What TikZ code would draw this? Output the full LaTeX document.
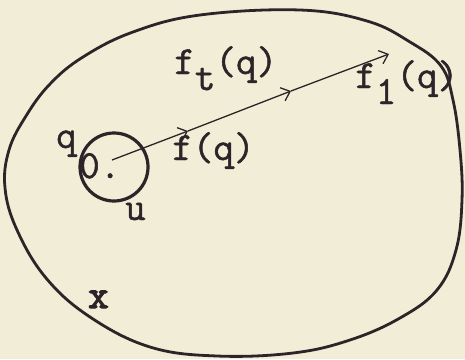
\documentclass[tikz,border=0pt]{standalone}
\usepackage{fontspec}
\newfontfamily\typer[FakeBold=1.2]{Latin Modern Mono}
\newfontfamily\typerheavy[FakeBold=3]{Latin Modern Mono}
\usetikzlibrary{arrows.meta}
\definecolor{paper}{RGB}{242,237,214}
\definecolor{ink}{RGB}{45,35,40}
\tikzset{
  lbl/.style={inner sep=0pt, anchor=base west, text=ink, font=\typer\fontsize{40}{40}\selectfont},
  curve/.style={draw=ink, line width=2.8pt, line join=round},
  vec/.style={draw=ink, line width=1.3pt, -{Straight Barb[length=8pt,width=14pt,line width=1.3pt]}},
}
\begin{document}
\begin{tikzpicture}[x=1pt,y=-1pt]
\fill[paper] (0,0) rectangle (465,359);
\useasboundingbox (0,0) rectangle (465,359);
% big region X
\draw[curve] plot[smooth cycle, tension=0.65] coordinates {
 (300,10) (367,21) (410,42) (441,66) (453,100) (460,150) (462,200) (456,250)
 (437,290) (400,318) (350,340) (293,353) (217,356) (150,347) (90,317) (46,278)
 (17,230) (5,188) (9,150) (26,116) (50,84) (83,57) (133,32) (200,15)};
% neighbourhood U
\node[draw=ink, line width=3.2pt, circle, minimum size=68pt, inner sep=0pt] (U) at (114,167) {};
% path of the point
\coordinate (o) at (112,160);
\coordinate (a1) at (188,131);
\coordinate (a2) at (291,91);
\coordinate (e) at (389,54);
\draw[vec] (o) -- (a1);
\draw[vec] (a1) -- (a2);
\draw[vec] (a2) -- (e);
% labels
\node[lbl] (ft) at (174,74) {f\raisebox{-16pt}{t}(q)};
\node[lbl] (f0) at (172,160) {f(q)};
\node[lbl] (f1) at (355,88) {f\raisebox{-16pt}{1}(q)};
\node[lbl] (q) at (56,148) {q};
\node[lbl] (o0) at (79,178) {0.};
\node[lbl] (u) at (125,220) {u};
\node[lbl, font=\typerheavy\fontsize{40}{40}\selectfont] (X) at (88,308) {x};
\end{tikzpicture}
\end{document}
